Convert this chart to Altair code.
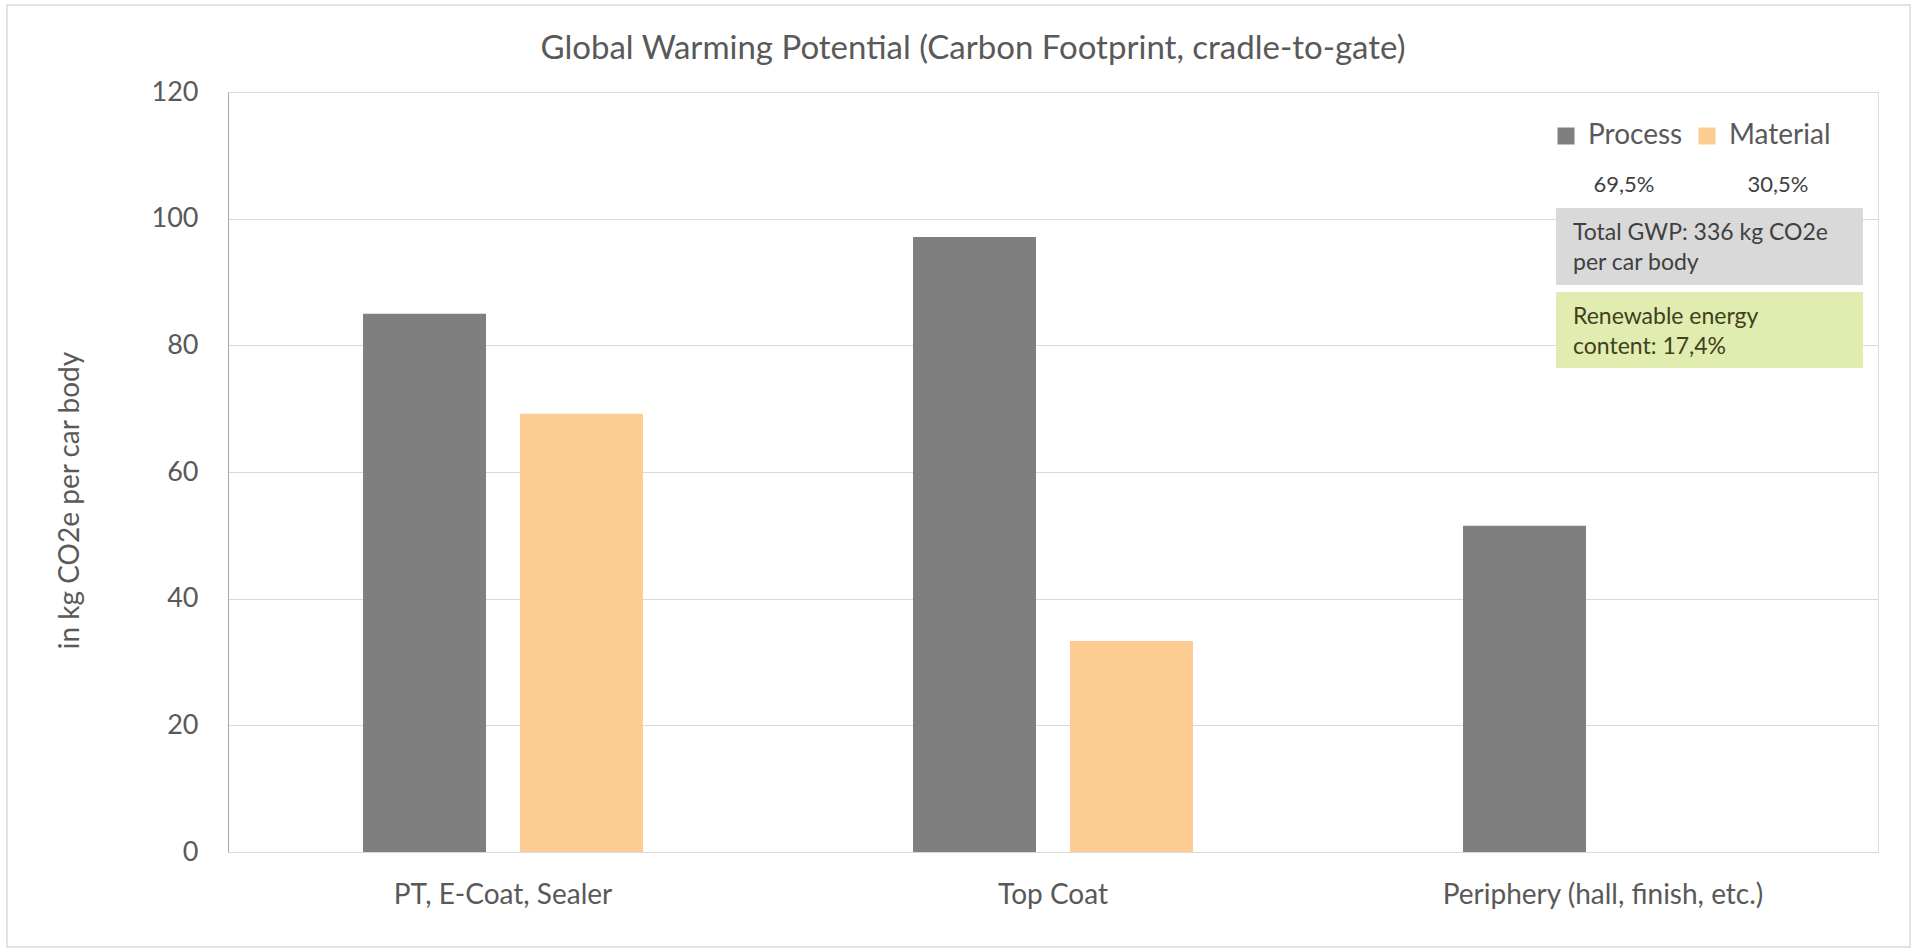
import altair as alt
import pandas as pd

categories = ["PT, E-Coat, Sealer", "Top Coat", "Periphery (hall, finish, etc.)"]
series = ["Process", "Material"]
process_values = [85.0, 97.1, 51.5]
material_values = [69.2, 33.3, None]
colors = ["#7f7f7f", "#fdcc93"]

share_labels = ["69,5%", "30,5%"]
total_lines = ["Total GWP: 336 kg CO2e", "per car body"]
renew_lines = ["Renewable energy", "content: 17,4%"]

title_text = ["Global Warming Potential (Carbon Footprint, cradle-to-gate)"]
y_title = "in kg CO2e per car body"

FONT = "Lato"
GRAY = "#595959"

rows = []
for c, p, m in zip(categories, process_values, material_values):
    rows.append({"category": c, "series": "Process", "value": p})
    if m is not None:
        rows.append({"category": c, "series": "Material", "value": m})
df = pd.DataFrame(rows)

W, H = 1650, 760
L, T = 228, 92

bars = alt.Chart(df).mark_bar().encode(
    x=alt.X("category:N", sort=categories,
            scale=alt.Scale(paddingInner=0.491, paddingOuter=0.2455),
            axis=alt.Axis(title=None, labelAngle=0, ticks=False, domain=False,
                          labelFont=FONT, labelFontSize=28, labelColor=GRAY,
                          labelPadding=43, labelBaseline="middle", labelLimit=0)),
    xOffset=alt.XOffset("series:N", sort=series,
                        scale=alt.Scale(paddingInner=0.2166, paddingOuter=0)),
    y=alt.Y("value:Q", scale=alt.Scale(domain=[0, 120], nice=False),
            axis=alt.Axis(values=[0, 20, 40, 60, 80, 100, 120], title=y_title,
                          ticks=False, domainColor="#a6a6a6",
                          gridColor="#d9d9d9", gridWidth=1,
                          labelFont=FONT, labelFontSize=27, labelColor=GRAY,
                          labelPadding=30,
                          titleFont=FONT, titleFontSize=28, titleColor=GRAY,
                          titleFontWeight="normal", titleAngle=-90,
                          titleX=-158, titleY=408, titleAlign="center",
                          titleBaseline="middle")),
    color=alt.Color("series:N", sort=series,
                    scale=alt.Scale(domain=series, range=colors),
                    legend=alt.Legend(title=None, orient="none", direction="horizontal",
                                      legendX=1324, legendY=30,
                                      symbolType="square", symbolSize=289,
                                      symbolStrokeWidth=0, labelFont=FONT,
                                      labelFontSize=28, labelColor=GRAY,
                                      labelOffset=8, columnPadding=10, padding=0)),
)

share_df = pd.DataFrame({"label": share_labels, "px": [1624 - L, 1778 - L]})
shares = alt.Chart(share_df).mark_text(font=FONT, fontSize=22, color="#404040",
                                       baseline="middle", align="center").encode(
    x=alt.X("px:Q", scale=None), y=alt.value(185 - T), text="label:N")

box_df = pd.DataFrame({"x1": [1556 - L, 1556 - L], "x2": [1863 - L, 1863 - L],
                       "y1": [208 - T, 292 - T], "y2": [285 - T, 368 - T],
                       "fill": ["#d9d9d9", "#e0ecb0"]})
boxes = alt.Chart(box_df).mark_rect().encode(
    x=alt.X("x1:Q", scale=None), x2="x2:Q",
    y=alt.Y("y1:Q", scale=None), y2="y2:Q",
    fill=alt.Fill("fill:N", scale=None))

text_df = pd.DataFrame({
    "label": total_lines + renew_lines,
    "py": [233 - T, 263 - T, 317 - T, 347 - T],
    "col": ["#404040", "#404040", "#3f4020", "#3f4020"],
})
box_text = alt.Chart(text_df).mark_text(font=FONT, fontSize=23, baseline="middle",
                                        align="left").encode(
    x=alt.value(1573 - L), y=alt.Y("py:Q", scale=None), text="label:N",
    color=alt.Color("col:N", scale=None))

title_df = pd.DataFrame({"label": title_text})
title = alt.Chart(title_df).mark_text(font=FONT, fontSize=33, color=GRAY,
                                      baseline="middle", align="center").encode(
    x=alt.value(973 - L), y=alt.value(49 - T), text="label:N")

frame = alt.Chart(pd.DataFrame({"a": [0]})).mark_rect(
    fill=None, stroke="#d9d9d9", strokeWidth=1.5).encode(
    x=alt.value(7 - L), x2=alt.value(1910 - L),
    y=alt.value(5 - T), y2=alt.value(947 - T))

chart = alt.layer(frame, bars, boxes, box_text, shares, title).properties(
    width=W, height=H,
    autosize=alt.AutoSizeParams(type="none"),
    padding={"left": L, "top": T, "right": 1914 - L - W, "bottom": 950 - T - H},
).configure_view(stroke="#c8c8c8", strokeWidth=1).configure(background="white")

chart.save("out.html", embed_options={"renderer": "svg", "actions": False})
